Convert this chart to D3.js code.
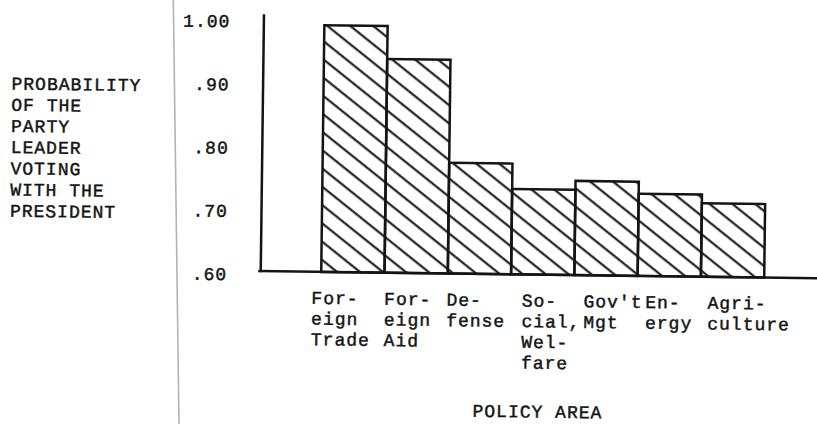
<!DOCTYPE html>
<html>
<head>
<meta charset="utf-8">
<script src="https://cdn.jsdelivr.net/npm/d3@7"></script>
<style>
  html, body { margin: 0; padding: 0; background: #fff; }
  svg { display: block; }
  text { font-family: "Liberation Mono", "DejaVu Sans Mono", monospace; fill: #141414;
         stroke: #141414; stroke-width: 0.45px; letter-spacing: 1px; }
</style>
</head>
<body>
<div id="chart"></div>
<script>
  // policy areas and the label lines typed under each bar
  var categories = ["Foreign Trade", "Foreign Aid", "Defense", "Social Welfare", "Gov't Mgt", "Energy", "Agriculture"];
  var catLabels = [
    ["For-", "eign", "Trade"],
    ["For-", "eign", "Aid"],
    ["De-", "fense"],
    ["So-", "cial,", "Wel-", "fare"],
    ["Gov't", "Mgt"],
    ["En-", "ergy"],
    ["Agri-", "culture"]
  ];
  var probability = [0.99, 0.938, 0.775, 0.735, 0.749, 0.73, 0.716];
  var yTicks = [0.60, 0.70, 0.80, 0.90, 1.00];
  var yTickLabels = [".60", ".70", ".80", ".90", "1.00"];
  var yTitle = ["PROBABILITY", "OF THE", "PARTY", "LEADER", "VOTING", "WITH THE", "PRESIDENT"];
  var xTitle = "POLICY AREA";

  const width = 817, height = 424;
  // labels were typed by hand, so they don't sit exactly on the bars
  const labelNudge = [-9.5, 0, -1, 11, 9.5, 8, 7];

  const svg = d3.select("#chart").append("svg")
    .attr("width", width)
    .attr("height", height);

  // hatch fill
  const defs = svg.append("defs");
  defs.append("pattern")
    .attr("id", "hatch")
    .attr("patternUnits", "userSpaceOnUse")
    .attr("width", 10)
    .attr("height", 14.3)
    .attr("patternTransform", "rotate(38)")
    .append("line")
    .attr("x1", -1).attr("x2", 11)
    .attr("y1", 7).attr("y2", 7)
    .attr("stroke", "#141414")
    .attr("stroke-width", 2.1);

  // page fold on the left (leans the other way from the chart)
  svg.append("line")
    .attr("x1", 173.3).attr("x2", 179)
    .attr("y1", 0).attr("y2", height)
    .attr("stroke", "#b3b3b3")
    .attr("stroke-width", 1.6);

  // the scanned page is turned a little clockwise
  const page = svg.append("g")
    .attr("transform", "rotate(0.72,408,212)");

  const x = d3.scaleBand()
    .domain(categories)
    .range([322, 765])
    .padding(0);

  const y = d3.scaleLinear()
    .domain([0.6, 1.0])
    .range([273, 20]);

  const data = categories.map((c, i) => ({ cat: c, value: probability[i], lines: catLabels[i] }));

  // bars
  page.selectAll("rect.bar")
    .data(data)
    .enter()
    .append("rect")
    .attr("class", "bar")
    .attr("x", d => x(d.cat))
    .attr("y", d => y(d.value))
    .attr("width", x.bandwidth())
    .attr("height", d => y(0.6) - y(d.value))
    .attr("fill", "url(#hatch)")
    .attr("stroke", "#141414")
    .attr("stroke-width", 2.5);

  // y axis, labels only
  const yAxisGrp = page.append("g")
    .attr("transform", "translate(261.5,0)")
    .call(d3.axisLeft(y)
      .tickValues(yTicks)
      .tickFormat((d, i) => yTickLabels[i])
      .tickSize(0)
      .tickPadding(33.5));
  yAxisGrp.select(".domain").remove();
  yAxisGrp.selectAll("text")
    .attr("dy", 9)
    .style("font-family", "'Liberation Mono', monospace")
    .style("font-size", "18px")
    .attr("fill", "#141414");

  // axis lines
  page.append("line")
    .attr("x1", 261.5).attr("x2", 261.5)
    .attr("y1", 16).attr("y2", y(0.6) + 1)
    .attr("stroke", "#141414")
    .attr("stroke-width", 2.5);
  page.append("line")
    .attr("x1", 259).attr("x2", 840)
    .attr("y1", y(0.6)).attr("y2", y(0.6))
    .attr("stroke", "#141414")
    .attr("stroke-width", 2.5);

  // category labels
  const lab = page.selectAll("text.cat")
    .data(data)
    .enter()
    .append("text")
    .attr("class", "cat")
    .attr("x", (d, i) => x(d.cat) + labelNudge[i])
    .attr("y", y(0.6) + 32)
    .style("font-size", "18px");
  lab.selectAll("tspan")
    .data(d => d.lines)
    .enter()
    .append("tspan")
    .attr("x", function() { return d3.select(this.parentNode).attr("x"); })
    .attr("dy", (d, i) => i === 0 ? 0 : 20.7)
    .text(d => d);

  // y title, typed block on the left
  page.append("text")
    .attr("x", 10)
    .attr("y", 94.5)
    .style("font-size", "18px")
    .selectAll("tspan")
    .data(yTitle)
    .enter()
    .append("tspan")
    .attr("x", 10)
    .attr("dy", (d, i) => i === 0 ? 0 : 21.2)
    .text(d => d);

  // x title
  page.append("text")
    .attr("x", 540)
    .attr("y", 416)
    .attr("text-anchor", "middle")
    .style("font-size", "18px")
    .text(xTitle);
</script>
</body>
</html>
